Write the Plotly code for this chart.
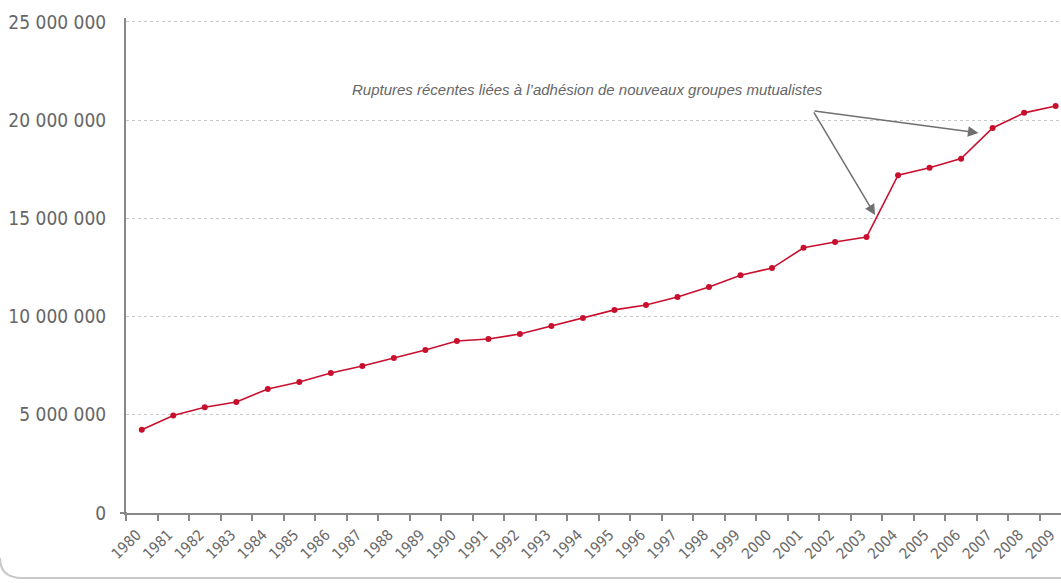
import plotly.graph_objects as go

years = [str(y) for y in range(1980, 2010)]
members = [4240000, 4960000, 5380000, 5650000, 6310000, 6670000, 7130000, 7480000,
           7890000, 8300000, 8760000, 8860000, 9110000, 9520000, 9930000, 10340000,
           10590000, 11000000, 11500000, 12100000, 12470000, 13500000, 13800000,
           14050000, 17200000, 17580000, 18040000, 19600000, 20370000, 20720000]
y_ticks = [0, 5000000, 10000000, 15000000, 20000000, 25000000]
y_tick_text = ["0", "5 000 000", "10 000 000", "15 000 000", "20 000 000", "25 000 000"]
note = "Ruptures récentes liées à l’adhésion de nouveaux groupes mutualistes"

W, H = 1061, 583
L, R, T, B = 126, 0, 18, 70
pw, ph = W - L - R, H - T - B

def px(x):
    return (x - L) / pw

def py(y):
    return (H - B - y) / ph

NARROW = "DejaVu Sans Condensed, Liberation Sans Narrow, Roboto, sans-serif"

fig = go.Figure()
fig.add_trace(go.Scatter(
    x=years, y=members, mode="lines+markers",
    line=dict(color="#C8102E", width=1.6),
    marker=dict(color="#C8102E", size=6),
    cliponaxis=False, showlegend=False,
))

for tip_x, tip_y in [(26.55, 19350000), (23.27, 15170000)]:
    fig.add_annotation(
        x=tip_x, y=tip_y, ax=21.3, ay=20470000, axref="x", ayref="y",
        xref="x", yref="y", text="", showarrow=True,
        arrowhead=2, arrowsize=1.4, arrowwidth=1.5, arrowcolor="#707070",
    )
fig.add_annotation(
    x=px(587), y=py(89), xref="paper", yref="paper", text=note, showarrow=False,
    font=dict(family="Liberation Sans, Arial", size=15, color="#666666", style="italic"),
    xanchor="center", yanchor="middle",
)

path = (f"M {px(0)},{py(558)} Q {px(0)},{py(578)} {px(22)},{py(578)} "
        f"L {px(1061)},{py(578)}")
fig.add_shape(type="path", path=path, xref="paper", yref="paper",
              line=dict(color="#c8c8c8", width=2))
fig.add_shape(type="line", x0=px(120), x1=px(127), y0=0, y1=0, xref="paper", yref="paper",
              line=dict(color="#888888", width=2))

fig.update_layout(
    width=W, height=H, margin=dict(l=L, r=R, t=T, b=B, autoexpand=False),
    paper_bgcolor="white", plot_bgcolor="white",
    xaxis=dict(
        type="category", range=[-0.5, 29.17], tickson="boundaries", automargin=False,
        ticks="outside", ticklen=6, tickcolor="#888888", tickwidth=1.5,
        showline=True, linecolor="#888888", linewidth=2,
        showgrid=False, tickangle=-45, ticklabelstandoff=5, ticklabelshift=-5,
        tickfont=dict(family=NARROW, size=15, color="#6a6a6a"),
    ),
    yaxis=dict(
        range=[0, 25200000], tickvals=y_ticks, ticktext=y_tick_text, automargin=False,
        showline=True, linecolor="#888888", linewidth=2,
        showgrid=True, gridcolor="#c8c8c8", griddash="dot", gridwidth=1,
        zeroline=False, ticks="", ticklabelstandoff=14,
        tickfont=dict(family=NARROW, size=19, color="#666666"),
    ),
)

fig.write_html("out.html")
